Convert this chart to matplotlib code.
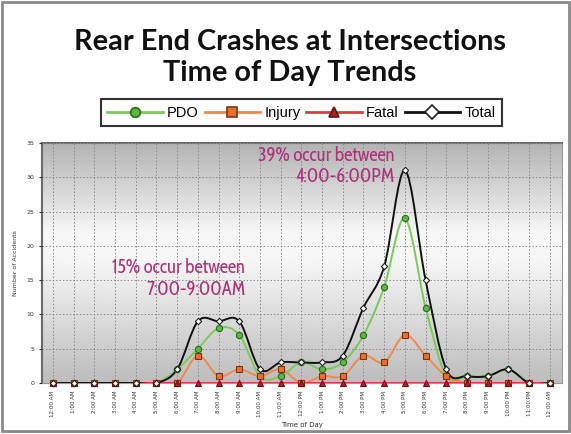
import matplotlib
matplotlib.use("Agg")
import matplotlib.pyplot as plt
import numpy as np
from matplotlib.path import Path
from matplotlib.patches import PathPatch, Rectangle
from matplotlib.lines import Line2D
from matplotlib.colors import LinearSegmentedColormap

hours = ['12:00 AM', '1:00 AM', '2:00 AM', '3:00 AM', '4:00 AM', '5:00 AM',
         '6:00 AM', '7:00 AM', '8:00 AM', '9:00 AM', '10:00 AM', '11:00 AM',
         '12:00 PM', '1:00 PM', '2:00 PM', '3:00 PM', '4:00 PM', '5:00 PM',
         '6:00 PM', '7:00 PM', '8:00 PM', '9:00 PM', '10:00 PM', '11:00 PM',
         '12:00 AM']
pdo = [0, 0, 0, 0, 0, 0, 2, 5, 8, 7, 1, 1, 3, 2, 3, 7, 14, 24, 11, 1, 1, 1, 2, 0, 0]
injury = [0, 0, 0, 0, 0, 0, 0, 4, 1, 2, 1, 2, 0, 1, 1, 4, 3, 7, 4, 1, 0, 0, 0, 0, 0]
fatal = [0] * 25
total = [0, 0, 0, 0, 0, 0, 2, 9, 9, 9, 2, 3, 3, 3, 4, 11, 17, 31, 15, 2, 1, 1, 2, 0, 0]

series = [
    ('PDO', pdo, '#7cc95a', 'o', '#5cb840', '#2f6a1e', 4.5),
    ('Injury', injury, '#ee8a4e', 's', '#e8702e', '#7a3410', 4.5),
    ('Fatal', fatal, '#e23a46', '^', '#b81c2c', '#6a1018', 4.5),
    ('Total', total, '#111111', 'D', 'white', '#222222', 3.2),
]

title_font = ['Lato', 'DejaVu Sans']
note_font = ['Cabin Condensed', 'DejaVu Sans']
legend_font = ['Liberation Sans', 'DejaVu Sans']


def smooth_path(xs, ys):
    # catmull-rom style bezier through the points
    pts = np.column_stack([xs, ys]).astype(float)
    n = len(pts)
    verts = [pts[0]]
    codes = [Path.MOVETO]
    for i in range(n - 1):
        p0 = pts[max(i - 1, 0)]
        p1 = pts[i]
        p2 = pts[i + 1]
        p3 = pts[min(i + 2, n - 1)]
        c1 = p1 + (p2 - p0) / 6.0
        c2 = p2 - (p3 - p1) / 6.0
        verts += [c1, c2, p2]
        codes += [Path.CURVE4] * 3
    return Path(verts, codes)


fig = plt.figure(figsize=(5.71, 4.34), dpi=100)
fig.patch.set_facecolor('white')
fig.add_artist(Rectangle((0.003, 0.006), 0.994, 0.99, transform=fig.transFigure,
                         fill=False, edgecolor='#8a8a8a', lw=2))

fig.text(0.508, 0.903, 'Rear End Crashes at Intersections', ha='center', va='center',
         fontsize=20.8, fontweight='bold', family=title_font, color='#111111')
fig.text(0.508, 0.832, 'Time of Day Trends', ha='center', va='center',
         fontsize=20.8, fontweight='bold', family=title_font, color='#111111')

ax = fig.add_axes([0.0736, 0.1175, 0.911, 0.553])
x = np.arange(len(hours))
ax.set_xlim(-0.53, 24.6)
ax.set_ylim(0, 35)

# gradient background
grad = np.interp(np.linspace(0, 1, 200), [0, 0.5, 0.62, 1], [0.74, 0.96, 0.97, 0.70])
cmap = LinearSegmentedColormap.from_list('g', ['black', 'white'])
ax.imshow(grad[:, None], aspect='auto', cmap=cmap, vmin=0, vmax=1, origin='lower',
          extent=(-0.53, 24.6, 0, 35), zorder=0)

ax.set_xticks(x)
ax.set_xticklabels(hours, rotation=90, fontsize=4, color='#333333')
ax.set_yticks(range(0, 36, 5))
ax.tick_params(axis='y', labelsize=4.5, colors='#333333', length=2)
ax.tick_params(axis='x', length=2, colors='#333333')
ax.grid(True, linestyle=(0, (1.5, 2)), color='#8a8a8a', lw=0.7)
ax.set_axisbelow(False)
for side in ['left', 'top']:
    ax.spines[side].set_color('#6a6a6a')
    ax.spines[side].set_linewidth(1.5)
ax.spines['right'].set_color('#9a9a9a')
ax.spines['bottom'].set_color('#9a9a9a')
ax.set_ylabel('Number of Accidents', fontsize=4.5, color='#333333', labelpad=6)
ax.set_xlabel('Time of Day', fontsize=5, color='#333333', labelpad=4)

handles = []
for name, vals, lc, mk, fc, ec, ms in series:
    patch = PathPatch(smooth_path(x, vals), fill=False, edgecolor=lc, lw=1.4, zorder=3)
    ax.add_patch(patch)
    ax.plot(x, vals, linestyle='none', marker=mk, markersize=ms, markerfacecolor=fc,
            markeredgecolor=ec, markeredgewidth=0.8, zorder=4, clip_on=False)
    handles.append(Line2D([0], [0], color=lc, lw=2, marker=mk, markersize=7,
                          markerfacecolor=fc, markeredgecolor=ec, markeredgewidth=1.2,
                          label=name))

leg = fig.legend(handles=handles, loc='center', bbox_to_anchor=(0.528, 0.74), ncol=4,
                 prop={'family': legend_font, 'size': 10.5}, frameon=True,
                 fancybox=False, edgecolor='black', handlelength=3.8,
                 handletextpad=0.3, columnspacing=0.4, borderpad=0.45)
leg.get_frame().set_linewidth(1.5)

anno_color = '#ac3478'
ax.text(9.27, 15.2, '15% occur between\n7:00-9:00AM', ha='right', va='center',
        multialignment='right', fontsize=13.5, color=anno_color,
        family=note_font, zorder=5, linespacing=1.05)
ax.text(16.5, 31.6, '39% occur between\n4:00-6:00PM', ha='right', va='center',
        multialignment='right', fontsize=13.5, color=anno_color,
        family=note_font, zorder=5, linespacing=1.05)

fig.savefig('out.png', dpi=100)
